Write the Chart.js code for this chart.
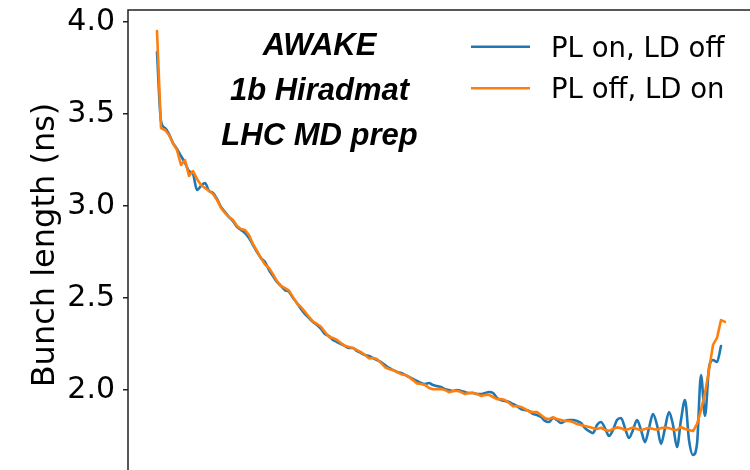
<!DOCTYPE html>
<html>
<head>
<meta charset="utf-8">
<script src="https://cdn.jsdelivr.net/npm/chart.js@4/dist/chart.umd.min.js"></script>
<style>
  html, body { margin: 0; padding: 0; background: #fff; overflow: hidden; width: 750px; height: 470px; }
  #wrap { position: absolute; left: 0; top: 0; width: 790px; height: 480px; }
</style>
</head>
<body>
<div id="wrap"><canvas id="c" width="790" height="480"></canvas></div>
<script>
// Bunch length (ns) along the cycle, one value per sample
const plOnLdOff = [
  3.837, 3.462, 3.424, 3.391, 3.342, 3.310, 3.272, 3.234, 3.190, 3.174,
  3.087, 3.109, 3.125, 3.082, 3.071, 3.038, 2.995, 2.967, 2.940, 2.918,
  2.886, 2.870, 2.853, 2.826, 2.788, 2.750, 2.717, 2.696, 2.652, 2.620,
  2.587, 2.565, 2.543, 2.533, 2.500, 2.473, 2.440, 2.413, 2.391, 2.370,
  2.353, 2.332, 2.304, 2.293, 2.272, 2.261, 2.250, 2.239, 2.228, 2.228,
  2.212, 2.201, 2.190, 2.185, 2.174, 2.163, 2.152, 2.136, 2.120, 2.109,
  2.098, 2.092, 2.082, 2.071, 2.060, 2.049, 2.038, 2.033, 2.038, 2.027,
  2.022, 2.016, 2.005, 2.000, 1.995, 2.000, 1.995, 1.989, 1.984, 1.984,
  1.978, 1.978, 1.984, 1.989, 1.984, 1.957, 1.946, 1.940, 1.935, 1.924,
  1.913, 1.897, 1.891, 1.886, 1.870, 1.864, 1.853, 1.832, 1.826, 1.848,
  1.837, 1.821, 1.832, 1.837, 1.837, 1.832, 1.821, 1.793, 1.777, 1.766,
  1.810, 1.826, 1.793, 1.750, 1.783, 1.837, 1.848, 1.793, 1.739, 1.783,
  1.837, 1.783, 1.717, 1.793, 1.870, 1.810, 1.707, 1.793, 1.880, 1.810,
  1.690, 1.837, 1.946, 1.728, 1.647, 1.707, 2.082, 1.859, 2.120, 2.163,
  2.152, 2.239
];

const plOffLdOn = [
  3.951, 3.424, 3.413, 3.386, 3.342, 3.304, 3.223, 3.250, 3.163, 3.190,
  3.147, 3.114, 3.098, 3.082, 3.065, 3.033, 2.989, 2.962, 2.940, 2.924,
  2.891, 2.875, 2.870, 2.842, 2.793, 2.756, 2.717, 2.682, 2.663, 2.630,
  2.592, 2.566, 2.554, 2.540, 2.505, 2.470, 2.451, 2.425, 2.397, 2.372,
  2.359, 2.344, 2.315, 2.288, 2.283, 2.272, 2.255, 2.240, 2.234, 2.228,
  2.217, 2.206, 2.190, 2.172, 2.174, 2.168, 2.147, 2.124, 2.114, 2.108,
  2.098, 2.086, 2.082, 2.070, 2.054, 2.036, 2.033, 2.028, 2.011, 2.004,
  2.005, 2.006, 2.000, 1.988, 1.995, 1.996, 1.989, 1.978, 1.984, 1.985,
  1.978, 1.968, 1.973, 1.974, 1.962, 1.950, 1.951, 1.946, 1.929, 1.912,
  1.913, 1.908, 1.897, 1.884, 1.880, 1.880, 1.864, 1.846, 1.842, 1.852,
  1.842, 1.837, 1.832, 1.832, 1.826, 1.815, 1.810, 1.804, 1.799, 1.793,
  1.788, 1.795, 1.783, 1.778, 1.788, 1.797, 1.793, 1.783, 1.788, 1.797,
  1.788, 1.782, 1.788, 1.795, 1.788, 1.784, 1.793, 1.796, 1.793, 1.785,
  1.783, 1.799, 1.788, 1.783, 1.777, 1.815, 1.891, 1.984, 2.109, 2.245,
  2.283, 2.380, 2.370
];

const yTickValues = [2.0, 2.5, 3.0, 3.5, 4.0];
const seriesNames = ['PL on, LD off', 'PL off, LD on'];
const noteLines = ['AWAKE', '1b Hiradmat', 'LHC MD prep'];

const toPoints = arr => arr.map((v, i) => ({ x: i, y: v }));

Chart.defaults.font.family = "'DejaVu Sans', sans-serif";
Chart.defaults.color = '#000';

// Axes frame: left and top spines
const framePlugin = {
  id: 'frame',
  afterDraw(chart) {
    const { ctx, chartArea: a } = chart;
    ctx.save();
    ctx.strokeStyle = '#222';
    ctx.lineWidth = 1.5;
    ctx.beginPath();
    ctx.moveTo(a.left, a.bottom);
    ctx.lineTo(a.left, a.top);
    ctx.lineTo(a.right, a.top);
    ctx.stroke();
    ctx.restore();
  }
};

// Legend drawn inside the plot, upper right
const insideLegend = {
  id: 'insideLegend',
  afterDraw(chart) {
    const { ctx } = chart;
    ctx.save();
    ctx.font = "27.5px 'DejaVu Sans'";
    ctx.textBaseline = 'alphabetic';
    ctx.textAlign = 'left';
    chart.data.datasets.forEach((ds, k) => {
      const yLine = 46.7 + k * 41.6;
      ctx.strokeStyle = ds.borderColor;
      ctx.lineWidth = 2.6;
      ctx.beginPath();
      ctx.moveTo(471, yLine);
      ctx.lineTo(530, yLine);
      ctx.stroke();
      ctx.fillStyle = '#000';
      ctx.fillText(ds.label, 551, yLine + 10);
    });
    ctx.restore();
  }
};

// Run description in bold italic
const notePlugin = {
  id: 'note',
  afterDraw(chart) {
    const { ctx } = chart;
    ctx.save();
    ctx.font = "italic bold 31px 'Liberation Sans'";
    ctx.textAlign = 'center';
    ctx.textBaseline = 'alphabetic';
    ctx.fillStyle = '#000';
    noteLines.forEach((t, k) => ctx.fillText(t, 319.5, 55 + k * 45));
    ctx.restore();
  }
};

new Chart(document.getElementById('c'), {
  type: 'line',
  data: {
    datasets: [
      { label: seriesNames[0], data: toPoints(plOnLdOff), borderColor: '#1f77b4', order: 2, cubicInterpolationMode: 'monotone' },
      { label: seriesNames[1], data: toPoints(plOffLdOn), borderColor: '#ff7f0e', order: 1 }
    ]
  },
  options: {
    responsive: false,
    animation: false,
    events: [],
    layout: { padding: { top: 10, left: 0, right: 0, bottom: 0 }, autoPadding: false },
    elements: {
      line: { borderWidth: 2.6, tension: 0, borderCapStyle: 'round', borderJoinStyle: 'round' },
      point: { radius: 0 }
    },
    plugins: { legend: { display: false }, tooltip: { enabled: false } },
    scales: {
      x: { type: 'linear', display: false, min: -7.25, max: 158.25 },
      y: {
        type: 'linear',
        min: 1.511,
        max: 4.0652,
        afterBuildTicks: s => { s.ticks = yTickValues.map(v => ({ value: v })); },
        afterFit: s => { s.width = 128; s.paddingTop = 0; s.paddingBottom = 0; },
        ticks: { font: { size: 30 }, color: '#000', padding: 8, callback: v => Number(v).toFixed(1) },
        grid: { drawOnChartArea: false, drawTicks: true, tickLength: 5, color: '#222', lineWidth: 1.5 },
        border: { display: false },
        title: { display: true, text: 'Bunch length (ns)', font: { size: 32 }, color: '#000', padding: { top: 26, bottom: 0 } }
      }
    }
  },
  plugins: [framePlugin, insideLegend, notePlugin]
});
</script>
</body>
</html>
